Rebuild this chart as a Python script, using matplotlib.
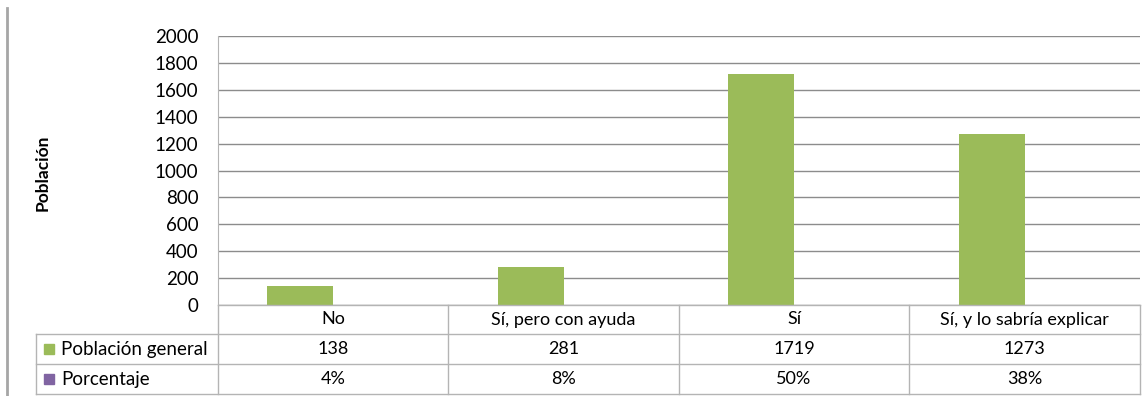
import matplotlib.pyplot as plt
from matplotlib.lines import Line2D
from matplotlib.patches import Rectangle

categories = ["No", "Sí, pero con ayuda", "Sí", "Sí, y lo sabría explicar"]
poblacion = [138, 281, 1719, 1273]
porcentaje = [0.04, 0.08, 0.50, 0.38]
series_names = ["Población general", "Porcentaje"]
yticks = [0, 200, 400, 600, 800, 1000, 1200, 1400, 1600, 1800, 2000]

GREEN = "#9BBB59"
PURPLE = "#8064A2"
GRID = "#8C8C8C"
BORDER = "#B4B4B4"

plt.rcParams["font.family"] = ["Lato", "DejaVu Sans"]
FS = 13

W, H = 1146, 396
fig = plt.figure(figsize=(W / 100, H / 100), dpi=100)

# plot area in pixels
left, right, top, bottom = 218, 1140, 36, 305
ax = fig.add_axes([left / W, 1 - bottom / H, (right - left) / W, (bottom - top) / H])

n = len(categories)
xs = list(range(n))
bw = 0.286
ax.bar([x - bw / 2 for x in xs], poblacion, width=bw, color=GREEN, zorder=3)
ax.bar([x + bw / 2 for x in xs], porcentaje, width=bw, color=PURPLE, zorder=3)

ax.set_xlim(-0.5, n - 0.5)
ax.set_ylim(0, 2000)
ax.set_yticks(yticks)
ax.set_yticklabels([str(t) for t in yticks], fontsize=FS + 0.5)
ax.tick_params(axis="y", length=0, pad=14)
ax.set_xticks([])
ax.grid(axis="y", color=GRID, linewidth=1, zorder=0)
for side in ["top", "right", "bottom"]:
    ax.spines[side].set_visible(False)
ax.spines["left"].set_color(BORDER)
ax.set_ylabel("Población", fontsize=12.5, fontweight="bold")
ax.yaxis.set_label_coords(-167 / (right - left), 0.49)

# data table below the plot area (pixel helpers)
def fx(px):
    return px / W

def fy(py):
    return 1 - py / H

row_tops = [305, 334, 364, 394]
col_edges = [218, 448, 679, 909, 1140]
label_left = 36

def hline(y, x0, x1):
    fig.add_artist(Line2D([fx(x0), fx(x1)], [fy(y), fy(y)], color=BORDER, lw=1))

def vline(x, y0, y1):
    fig.add_artist(Line2D([fx(x), fx(x)], [fy(y0), fy(y1)], color=BORDER, lw=1))

hline(row_tops[0], col_edges[0], col_edges[-1])
for y in row_tops[1:]:
    hline(y, label_left, col_edges[-1])
for x in col_edges:
    vline(x, row_tops[0], row_tops[-1])
vline(label_left, row_tops[1], row_tops[-1])

rows = [categories,
        [str(v) for v in poblacion],
        [f"{round(p * 100)}%" for p in porcentaje]]
for r, vals in enumerate(rows):
    yc = (row_tops[r] + row_tops[r + 1]) / 2
    for c, v in enumerate(vals):
        xc = (col_edges[c] + col_edges[c + 1]) / 2
        fig.text(fx(xc), fy(yc), v, ha="center", va="center", fontsize=FS)

for i, (name, col) in enumerate(zip(series_names, [GREEN, PURPLE])):
    yc = (row_tops[i + 1] + row_tops[i + 2]) / 2
    fig.add_artist(Rectangle((fx(44), fy(yc + 5)), 10 / W, 10 / H, color=col))
    fig.text(fx(61), fy(yc), name, ha="left", va="center", fontsize=FS + 0.5)

# outer chart frame edge on the left
fig.add_artist(Line2D([fx(7), fx(7)], [fy(8), fy(396)], color="#A6A6A6", lw=2))

fig.savefig("out.png", dpi=100)
